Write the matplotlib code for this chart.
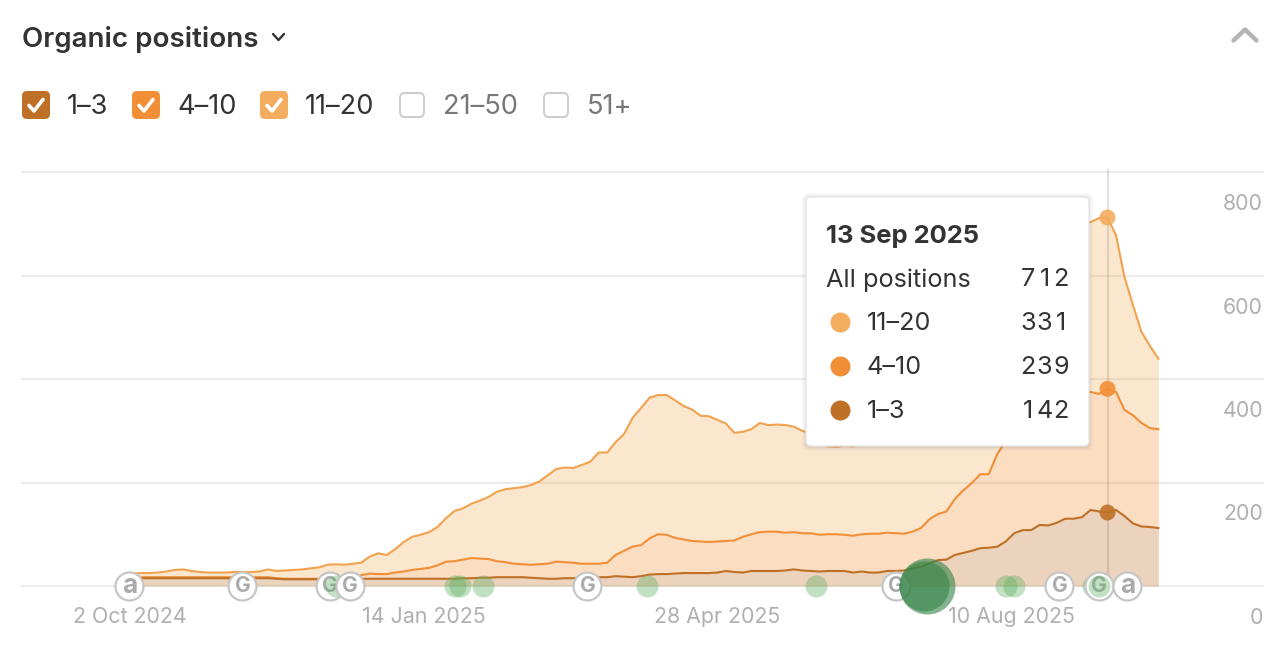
import matplotlib
matplotlib.use("Agg")
import matplotlib.pyplot as plt
import matplotlib.dates as mdates
import numpy as np
import pandas as pd
from matplotlib.patches import FancyBboxPatch

plt.rcParams['font.family'] = ['Inter', 'DejaVu Sans']

# one reading every three days
dates = pd.date_range('2024-10-03', '2025-10-01', freq='3D')

pos_1_3 = [15, 15, 15, 15, 15, 15, 15, 15, 15, 15,
           15, 15, 15, 15, 15, 15, 15, 14, 13, 13,
           13, 13, 13, 13, 13, 13, 14, 14, 14, 14,
           14, 14, 14, 14, 14, 14, 14, 14, 14, 15,
           15, 16, 16, 17, 17, 17, 17, 16, 15, 14,
           14, 15, 15, 16, 16, 17, 17, 19, 18, 17,
           19, 22, 23, 23, 24, 25, 25, 25, 25, 26,
           29, 27, 26, 29, 29, 29, 29, 30, 32, 30,
           29, 28, 29, 29, 29, 26, 28, 26, 26, 29,
           29, 30, 34, 37, 44, 50, 51, 60, 64, 68,
           73, 74, 76, 86, 102, 108, 108, 118, 117, 122,
           130, 130, 133, 147, 144, 142, 147, 135, 121, 115,
           114, 112]

pos_4_10 = [2, 2, 2, 2, 2, 2, 2, 2, 2, 2,
            2, 2, 2, 2, 2, 2, 2, 1, 1, 1,
            1, 1, 1, 1, 2, 3, 3, 7, 10, 9,
            9, 12, 14, 17, 19, 21, 26, 33, 34, 36,
            39, 37, 36, 31, 29, 26, 25, 25, 27, 29,
            33, 31, 30, 27, 27, 26, 28, 41, 50, 59,
            60, 70, 77, 76, 69, 65, 62, 61, 60, 60,
            58, 61, 69, 71, 75, 76, 76, 73, 72, 72,
            73, 71, 71, 71, 70, 71, 72, 75, 75, 74,
            73, 71, 71, 75, 85, 89, 93, 108, 121, 131,
            143, 142, 179, 194, 199, 213, 224, 224, 233, 235,
            233, 237, 238, 228, 227, 239, 228, 205, 209, 200,
            191, 191]

pos_11_20 = [7, 8, 8, 9, 11, 14, 15, 12, 10, 9,
             9, 9, 10, 10, 10, 11, 15, 14, 16, 17,
             18, 20, 22, 27, 27, 25, 26, 24, 33, 40,
             37, 45, 57, 64, 66, 69, 74, 84, 97, 99,
             105, 112, 120, 134, 141, 146, 149, 154, 160, 171,
             179, 183, 183, 191, 197, 215, 213, 218, 226, 249,
             265, 272, 269, 270, 266, 258, 254, 243, 243, 235,
             227, 208, 203, 203, 211, 206, 207, 208, 204, 198,
             192, 181, 170, 169, 172, 173, 174, 177, 181, 183,
             188, 197, 200, 209, 211, 224, 242, 245, 255, 269,
             279, 306, 290, 288, 290, 290, 298, 307, 315, 321,
             329, 332, 332, 328, 340, 331, 303, 257, 213, 176,
             159, 136]

y_ticks = [0, 200, 400, 600, 800]
x_tick_dates = ['2024-10-02', '2025-01-14', '2025-04-28', '2025-08-10']
x_tick_labels = ['2 Oct 2024', '14 Jan 2025', '28 Apr 2025', '10 Aug 2025']

google_updates = ['2024-11-11', '2024-12-12', '2024-12-19', '2025-03-13',
                  '2025-06-30', '2025-08-27', '2025-09-10']
ahrefs_updates = ['2024-10-02', '2025-09-20']
minor_events = ['2024-12-14', '2025-01-25', '2025-01-27', '2025-02-04', '2025-04-03',
                '2025-06-02', '2025-08-08', '2025-08-11', '2025-09-08', '2025-09-10']
major_events = ['2025-07-11', '2025-07-10']

selected_date = pd.Timestamp('2025-09-13')

COL_1_3 = '#BF7027'
COL_4_10 = '#F28F36'
COL_11_20 = '#F4AD5E'
TEXT = '#333333'
MUTED = '#B0B0B0'


def area_size(radius_px):
    # scatter wants points squared, the radii here are in pixels at 100 dpi
    return (2 * radius_px * 0.72) ** 2


def draw_chart(ax):
    low = np.array(pos_1_3)
    mid = low + np.array(pos_4_10)
    top = mid + np.array(pos_11_20)

    ax.fill_between(dates, 0, low, color=COL_1_3, alpha=0.3, lw=0, zorder=2)
    ax.fill_between(dates, low, mid, color=COL_4_10, alpha=0.3, lw=0, zorder=2)
    ax.fill_between(dates, mid, top, color=COL_11_20, alpha=0.3, lw=0, zorder=2)
    ax.plot(dates, top, color='#F2A24E', lw=1.5, zorder=3)
    ax.plot(dates, mid, color=COL_4_10, lw=1.5, zorder=3)
    ax.plot(dates, low, color=COL_1_3, lw=1.5, zorder=3)

    # crosshair and dots on the hovered date
    i = list(dates).index(selected_date)
    ax.plot([selected_date, selected_date], [0, 804], color='#8a7a6a', alpha=0.22,
            lw=1.6, clip_on=False, zorder=4)
    ax.scatter([selected_date] * 3, [top[i], mid[i], low[i]],
               c=[COL_11_20, COL_4_10, COL_1_3], s=area_size(8), alpha=0.9,
               linewidths=0, zorder=5)

    ax.set_xlim(pd.Timestamp('2024-08-25'), pd.Timestamp('2025-11-07'))
    ax.set_ylim(0, 800)
    ax.set_yticks(y_ticks)
    ax.set_yticklabels([])
    ax.set_xticks(pd.to_datetime(x_tick_dates))
    ax.set_xticklabels(x_tick_labels, fontsize=15.4, color=MUTED)
    ax.tick_params(axis='both', length=0)
    ax.tick_params(axis='x', pad=15)
    ax.grid(axis='y', color='#ECECEC', lw=1.5, zorder=1)
    for line in ax.get_ygridlines():
        line.set_clip_on(False)
    for spine in ax.spines.values():
        spine.set_visible(False)
    ax.set_axisbelow(True)

    # y labels sit under their gridline, at the right end
    for value in y_ticks:
        ax.annotate(str(value), xy=(1, value), xycoords=('axes fraction', 'data'),
                    xytext=(0, -32), textcoords='offset pixels', ha='right', va='center',
                    fontsize=15.4, color=MUTED, annotation_clip=False)


def draw_badges(ax):
    def badge(date_str, letter, z):
        when = pd.Timestamp(date_str)
        size = 15
        if letter == 'a':
            size = 19
        ax.scatter([when], [0], s=area_size(14), facecolor='white', edgecolor='#C6C6C6',
                   linewidths=1.6, clip_on=False, zorder=z)
        ax.annotate(letter, xy=(when, 0), ha='center', va='center', fontsize=size,
                    fontweight='bold', color='#ABABAB', annotation_clip=False, zorder=z)

    def bubble(date_str, radius, color, alpha, z):
        ax.scatter([pd.Timestamp(date_str)], [0], s=area_size(radius), color=color, alpha=alpha,
                   linewidths=0, clip_on=False, zorder=z)

    # stacking follows the date, later badges cover earlier ones
    badge(ahrefs_updates[0], 'a', 6)
    badge(google_updates[0], 'G', 6)
    badge(google_updates[1], 'G', 6)
    badge(google_updates[2], 'G', 8)
    badge(google_updates[3], 'G', 6)
    badge(google_updates[4], 'G', 6)
    badge(google_updates[5], 'G', 6)
    badge(google_updates[6], 'G', 8)
    badge(ahrefs_updates[1], 'a', 10)

    for n, day in enumerate(minor_events):
        z = 7
        if n == len(minor_events) - 1:
            z = 9
        bubble(day, 11, '#5FB060', 0.38, z)
    bubble(major_events[0], 28, '#38854A', 0.62, 7)
    bubble(major_events[1], 25, '#38854A', 0.62, 7)


def check_box(ui, x0, y0, size, color, checked):
    if checked:
        ui.add_patch(FancyBboxPatch((x0 + 3, y0 + 3), size - 6, size - 6,
                                    boxstyle='round,pad=3,rounding_size=5',
                                    fc=color, ec='none'))
        ui.plot([x0 + 7, x0 + 12, x0 + 21], [y0 + 14.5, y0 + 20, y0 + 8.5], color='white',
                lw=2.6, solid_capstyle='round', solid_joinstyle='round')
    else:
        ui.add_patch(FancyBboxPatch((x0 + 3, y0 + 3), size - 6, size - 6,
                                    boxstyle='round,pad=2,rounding_size=5',
                                    fc='white', ec='#CCCCCC', lw=1.4))


def draw_header(ui):
    ui.text(22, 39.5, 'Organic positions', fontsize=20, fontweight='semibold', color=TEXT,
            va='center', ha='left')
    ui.plot([273, 278.5, 284], [34, 40, 34], color=TEXT, lw=1.7, solid_capstyle='round')
    ui.plot([1233.5, 1245, 1256.5], [40.5, 29.5, 40.5], color='#B4B4B4', lw=3.2,
            solid_capstyle='round', solid_joinstyle='round')

    check_box(ui, 22, 91, 28, COL_1_3, True)
    check_box(ui, 132, 91, 28, COL_4_10, True)
    check_box(ui, 260, 91, 28, COL_11_20, True)
    check_box(ui, 399, 92, 26, '#CCCCCC', False)
    check_box(ui, 543, 92, 26, '#CCCCCC', False)
    for x, label, color in [(67, '1–3', TEXT), (177, '4–10', TEXT), (305, '11–20', TEXT),
                            (443, '21–50', '#777777'), (587, '51+', '#777777')]:
        ui.text(x, 107, label, fontsize=19.6, color=color, va='center', ha='left')


def draw_number(ui, x_right, y, value):
    # digits go in equal cells so the columns line up
    digits = str(value)[::-1]
    for k, ch in enumerate(digits):
        ui.text(x_right - (k + 0.5) * 16.3, y, ch, fontsize=18.2, color=TEXT,
                va='center', ha='center')


def draw_tooltip(ui):
    i = list(dates).index(selected_date)
    # soft shadow first, then the card
    for grow, alpha in [(4, 0.03), (2.5, 0.05), (1, 0.08)]:
        ui.add_patch(FancyBboxPatch((812, 203), 271, 238,
                                    boxstyle='round,pad=%.1f,rounding_size=6' % (6 + grow),
                                    fc='#555555', ec='none', alpha=alpha))
    ui.add_patch(FancyBboxPatch((812, 203), 271, 237,
                                boxstyle='round,pad=6,rounding_size=5', fc='white',
                                ec='#E6E6E6', lw=1))

    ui.text(826, 236, selected_date.strftime('%-d %b %Y'), fontsize=18.4, fontweight='bold',
            color=TEXT, va='center', ha='left')
    total = pos_1_3[i] + pos_4_10[i] + pos_11_20[i]
    ui.text(826, 280, 'All positions', fontsize=18.2, color=TEXT, va='center', ha='left')
    draw_number(ui, 1069, 280, total)
    rows = [(322, '11–20', pos_11_20[i], COL_11_20),
            (366, '4–10', pos_4_10[i], COL_4_10),
            (410, '1–3', pos_1_3[i], COL_1_3)]
    for y, label, value, color in rows:
        ui.scatter([840], [y], s=area_size(10), color=color, linewidths=0)
        ui.text(867, y + 2, label, fontsize=18.2, color=TEXT, va='center', ha='left')
        draw_number(ui, 1069, y + 2, value)


fig = plt.figure(figsize=(12.82, 6.52), dpi=100)
ax = fig.add_axes([22 / 1282, (652 - 586) / 652, (1263 - 22) / 1282, (586 - 172) / 652])
draw_chart(ax)
draw_badges(ax)

# full figure overlay in pixel coordinates for the controls and the tooltip
ui = fig.add_axes([0, 0, 1, 1], zorder=20)
ui.set_xlim(0, 1282)
ui.set_ylim(652, 0)
ui.axis('off')
ui.patch.set_alpha(0)
draw_header(ui)
draw_tooltip(ui)

fig.savefig('out.png', dpi=100)
